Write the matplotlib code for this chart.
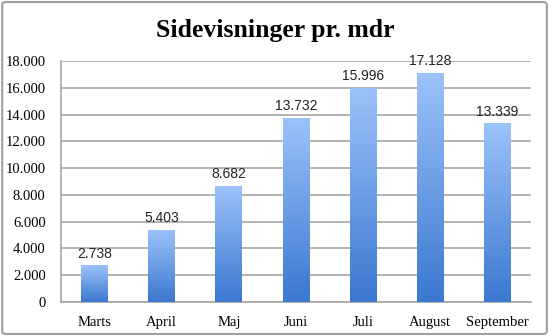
import matplotlib
matplotlib.use('Agg')
import matplotlib.pyplot as plt
import matplotlib.patches as mpatches
from matplotlib.colors import LinearSegmentedColormap
import numpy as np

months = ['Marts', 'April', 'Maj', 'Juni', 'Juli', 'August', 'September']
views = [2738, 5403, 8682, 13732, 15996, 17128, 13339]
yticks = [0, 2000, 4000, 6000, 8000, 10000, 12000, 14000, 16000, 18000]

fig = plt.figure(figsize=(5.49, 3.36), dpi=100)
ax = fig.add_axes([61/549, 1 - 302/336, (531-61)/549, (302-61)/336])

# bar gradient: dark blue at the bottom, light at the top
cmap = LinearSegmentedColormap.from_list('bar', ['#3b78d0', '#9cc2fa'])
grad = np.linspace(0, 1, 256).reshape(-1, 1)

x = np.arange(len(months))
bars = ax.bar(x, views, width=0.4, color='none', edgecolor='none', zorder=3)
for b in bars:
    x0, y0 = b.get_x(), b.get_y()
    w, h = b.get_width(), b.get_height()
    im = ax.imshow(grad, cmap=cmap, aspect='auto', origin='lower',
                   extent=[x0, x0 + w, y0, y0 + h], zorder=3)
    im.set_clip_path(b)

for xi, v in zip(x, views):
    ax.text(xi, v + 350, f'{v:,}'.replace(',', '.'), ha='center', va='bottom',
            fontsize=10, family='Liberation Sans', color='#222222')

ax.set_xlim(-0.5, len(months) - 0.5)
ax.set_ylim(0, 18000)
ax.set_yticks(yticks)
ax.set_yticklabels([f'{t:,}'.replace(',', '.') for t in yticks],
                   family='Liberation Serif', fontsize=10.5)
ax.set_xticks(x)
ax.set_xticklabels(months, family='Liberation Serif', fontsize=10.5)
ax.tick_params(axis='y', length=0, pad=11)
ax.tick_params(axis='x', length=0, pad=10)
ax.grid(axis='y', color='#a6a6a6', linewidth=1.2, zorder=0)
ax.set_axisbelow(True)
for s in ['top', 'right']:
    ax.spines[s].set_visible(False)
for s in ['left', 'bottom']:
    ax.spines[s].set_color('#a6a6a6')
    ax.spines[s].set_linewidth(1.2)

fig.text(275/549, 1 - 30/336, 'Sidevisninger pr. mdr', ha='center', va='center',
         fontsize=18.5, fontweight='bold', family='Liberation Serif')

border = mpatches.FancyBboxPatch((0.004, 0.006), 0.992, 0.988,
                                 boxstyle='round,pad=0,rounding_size=0.008',
                                 transform=fig.transFigure, fill=False,
                                 edgecolor='#a0a0a0', linewidth=1.5)
fig.patches.append(border)

plt.savefig('out.png', dpi=100)
